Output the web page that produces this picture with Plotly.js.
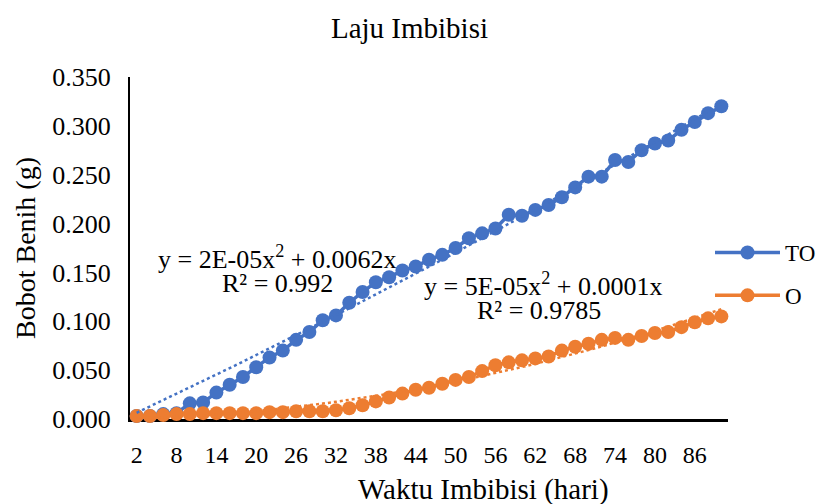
<!DOCTYPE html>
<html>
<head>
<meta charset="utf-8">
<script src="https://cdn.plot.ly/plotly-3.0.1.min.js"></script>
<style>html,body{margin:0;padding:0;background:#fff;}#chart{width:819px;height:504px;}</style>
</head>
<body>
<div id="chart"></div>
<script>
// Waktu imbibisi (hari) categories
var categories = ['2','4','6','8','10','12','14','16','18','20','22','24','26','28','30','32','34','36','38','40','42','44','46','48','50','52','54','56','58','60','62','64','66','68','70','72','74','76','78','80','82','84','86','88','90'];
var xTickLabels = ['2','8','14','20','26','32','38','44','50','56','62','68','74','80','86'];
var seriesTO = [0.003,0.003,0.005,0.006,0.016,0.017,0.027,0.035,0.043,0.053,0.063,0.070,0.081,0.089,0.101,0.106,0.119,0.130,0.140,0.145,0.152,0.156,0.163,0.168,0.175,0.185,0.190,0.195,0.209,0.208,0.214,0.219,0.227,0.237,0.248,0.248,0.265,0.263,0.275,0.282,0.285,0.296,0.304,0.313,0.320];
var seriesO = [0.003,0.003,0.004,0.005,0.005,0.006,0.006,0.006,0.006,0.006,0.007,0.007,0.008,0.008,0.008,0.009,0.011,0.014,0.018,0.022,0.026,0.030,0.032,0.036,0.040,0.043,0.049,0.055,0.058,0.060,0.062,0.064,0.070,0.074,0.077,0.081,0.083,0.081,0.085,0.088,0.089,0.094,0.099,0.103,0.105];
var eqTO = ['y = 2E-05x<sup>2</sup> + 0.0062x', 'R² = 0.992'];
var eqO = ['y = 5E-05x<sup>2</sup> + 0.0001x', 'R² = 0.9785'];
var xTitle = 'Waktu Imbibisi (hari)';

var blue = '#4472C4', orange = '#ED7D31';
var FONT = 'Liberation Serif, Times New Roman, serif';

// quadratic least-squares fit through the origin, x = 1..n (as Excel's trendline)
function fitQuad(ys) {
  var s2=0,s3=0,s4=0,sxy=0,sx2y=0;
  for (var i=0;i<ys.length;i++){var x=i+1;s2+=x*x;s3+=x*x*x;s4+=x*x*x*x;sxy+=x*ys[i];sx2y+=x*x*ys[i];}
  var det=s4*s2-s3*s3;
  var a=(sx2y*s2-s3*sxy)/det, b=(s4*sxy-s3*sx2y)/det;
  return ys.map(function(_,i){var x=i+1;return a*x*x+b*x;});
}

var traces = [
  {x:categories,y:seriesTO,name:'TO',type:'scatter',mode:'lines+markers',legendgroup:'a',
   line:{color:blue,width:3.5},marker:{color:blue,size:14},cliponaxis:false},
  {x:categories,y:seriesO,name:'O',type:'scatter',mode:'lines+markers',legendgroup:'b',
   line:{color:orange,width:3.5},marker:{color:orange,size:14},cliponaxis:false},
  {x:categories,y:fitQuad(seriesTO),type:'scatter',mode:'lines',showlegend:false,hoverinfo:'skip',
   line:{color:blue,width:2.5,dash:'dot'},cliponaxis:false},
  {x:categories,y:fitQuad(seriesO),type:'scatter',mode:'lines',showlegend:false,hoverinfo:'skip',
   line:{color:orange,width:2.5,dash:'dot'},cliponaxis:false}
];

function ann(text,px,py,size){
  return {xref:'paper',yref:'paper',x:(px-130)/598,y:(419-py)/342,text:text,showarrow:false,
    font:{size:size||26,family:FONT,color:'#000'},align:'center',xanchor:'center',yanchor:'middle'};
}

var layout = {
  width:819,height:504,
  margin:{l:130,r:91,t:77,b:85},
  paper_bgcolor:'#fff',plot_bgcolor:'#fff',
  font:{family:FONT,color:'#000',size:22},
  title:{text:'Laju Imbibisi',font:{family:FONT,size:29,color:'#000'},x:0.5,xanchor:'center',y:0.945,yanchor:'middle'},
  xaxis:{type:'category',range:[-0.5,44.5],tickmode:'array',tickvals:xTickLabels,ticktext:xTickLabels,
    showline:true,linecolor:'#000',linewidth:2.5,showgrid:false,zeroline:false,
    ticks:'outside',ticklen:13,tickcolor:'rgba(0,0,0,0)',tickfont:{size:24,family:FONT},
    layer:'below traces',automargin:false},
  yaxis:{range:[0,0.35],dtick:0.05,tick0:0,tickformat:'.3f',
    showline:true,linecolor:'#000',linewidth:2,showgrid:false,zeroline:false,
    ticks:'outside',ticklen:12,tickcolor:'rgba(0,0,0,0)',tickfont:{size:26,family:FONT},
    layer:'below traces',automargin:false,
    title:{text:'Bobot Benih (g)',font:{size:28,family:FONT},standoff:8}},
  legend:{x:0.6,xanchor:'left',y:0.424,yanchor:'middle',bgcolor:'rgba(0,0,0,0)',
    font:{size:23,family:FONT},itemwidth:65,traceorder:'grouped',tracegroupgap:10},
  annotations:[
    ann(eqTO[0],277,257), ann(eqTO[1],277,283),
    ann(eqO[0],543,284), ann(eqO[1],539,310),
    ann(xTitle,483,489,29)
  ],
  showlegend:true
};

Plotly.newPlot('chart',traces,layout,{staticPlot:true,displayModeBar:false}).then(function(gd){
  // place the legend to the right of the plot without shrinking the plot area
  var lg = gd.querySelector('g.legend');
  if (lg) {
    var t = lg.getAttribute('transform') || '';
    var m = /translate\(\s*([-\d.]+)[ ,]+([-\d.]+)\s*\)/.exec(t);
    var ty = m ? parseFloat(m[2]) : 0;
    lg.setAttribute('transform','translate(710,' + ty + ')');
  }
});
</script>
</body>
</html>
